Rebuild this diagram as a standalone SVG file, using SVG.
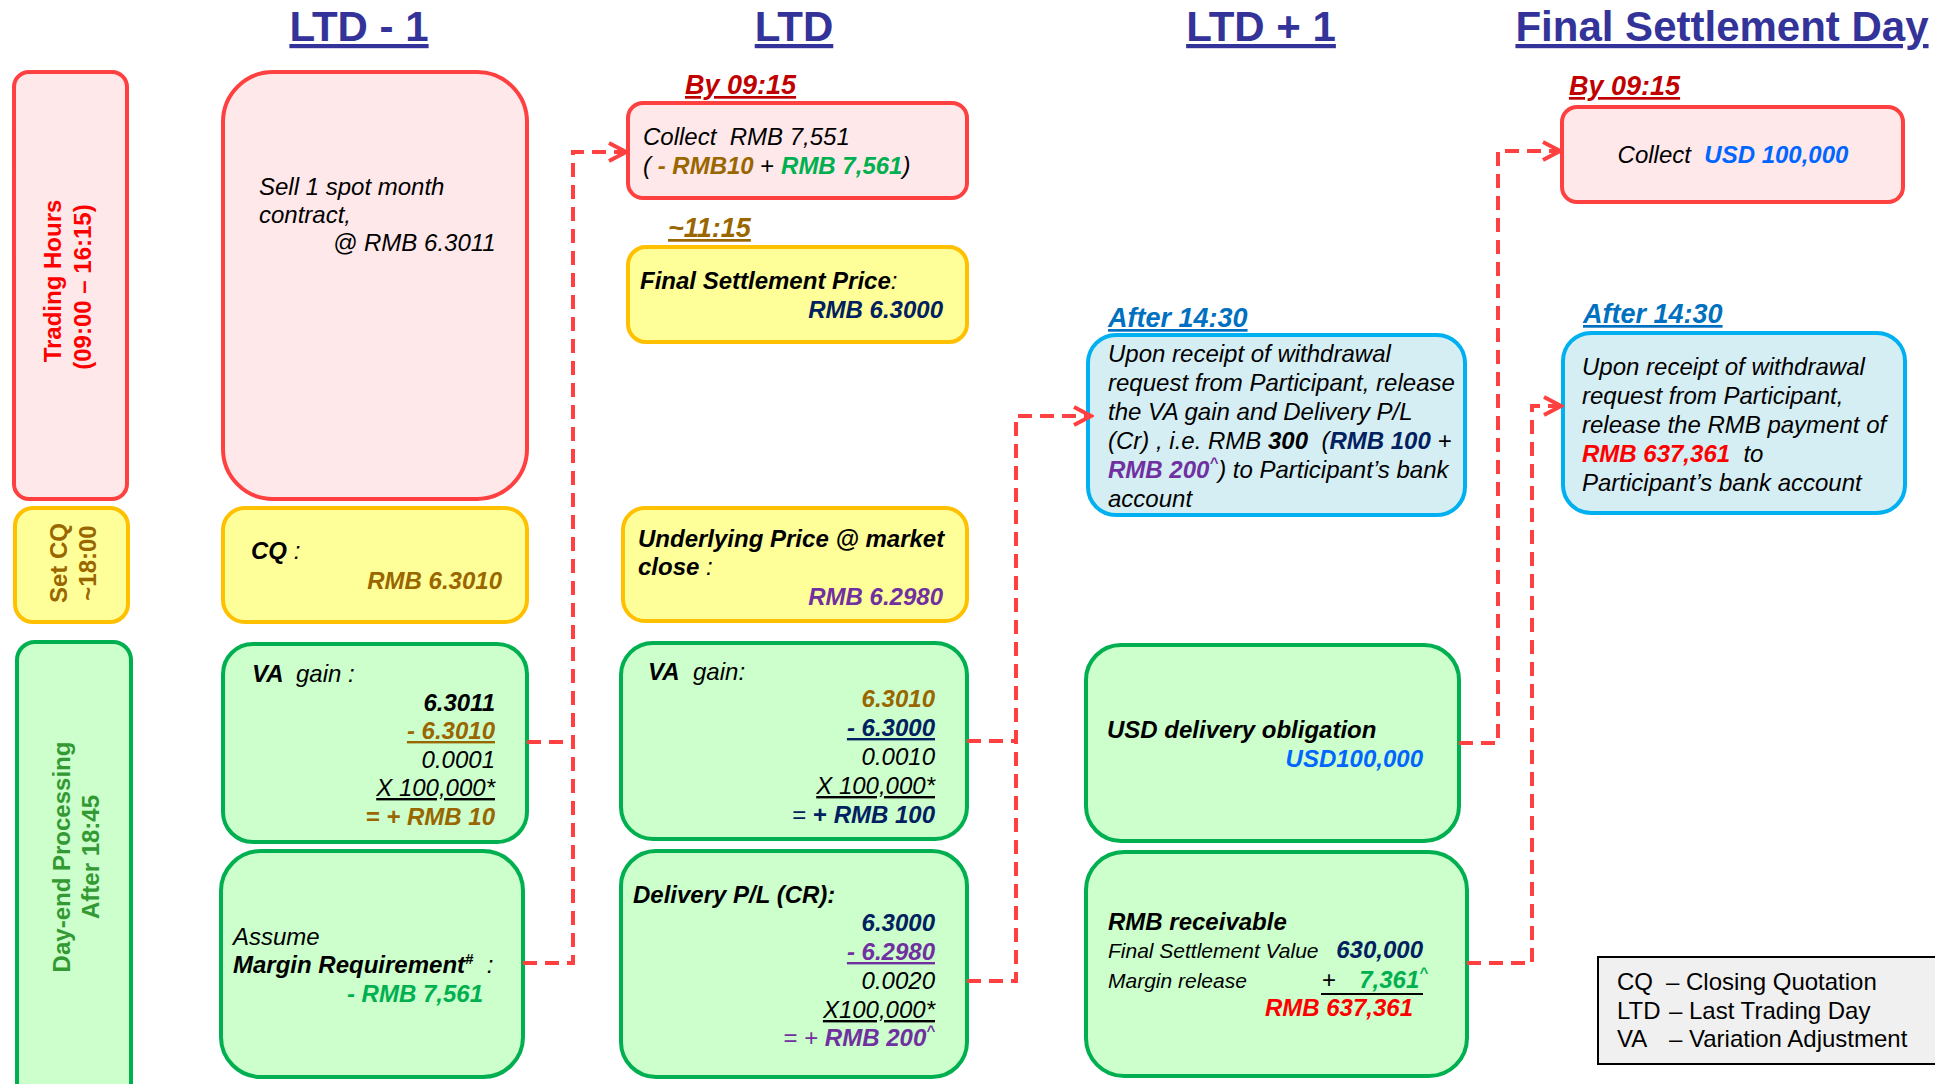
<svg xmlns="http://www.w3.org/2000/svg" width="1935" height="1084" viewBox="0 0 1935 1084">
<style>
text{font-family:"Liberation Sans",Arial,sans-serif;font-size:24px;fill:#000}
.title{font-size:42px;font-weight:bold;fill:#333399;text-decoration:underline;text-anchor:middle}
.i{font-style:italic}
.b{font-weight:bold}
.bi{font-weight:bold;font-style:italic}
.u{text-decoration:underline}
.end{text-anchor:end}
.mid{text-anchor:middle}
.time{font-size:27px;font-weight:bold;font-style:italic;text-decoration:underline}
.pink{fill:#FFE8EA;stroke:#FF4040;stroke-width:4}
.yel{fill:#FFFF99;stroke:#FFC000;stroke-width:4}
.grn{fill:#CCFFCC;stroke:#00B050;stroke-width:4}
.blu{fill:#D5EEF3;stroke:#00B0F0;stroke-width:4}
.brown{fill:#996600}
.navy{fill:#002060}
.purple{fill:#7030A0}
.green{fill:#00B050}
.usd{fill:#0066FF}
.red{fill:#FF0000}
.conn{fill:none;stroke:#FF4040;stroke-width:4;stroke-dasharray:14 8}
.sm{font-size:21px}
</style>
<defs>
<marker id="arr" viewBox="0 0 22 22" refX="19" refY="11" markerWidth="22" markerHeight="22" markerUnits="userSpaceOnUse" orient="auto">
<path d="M2,2 L19,11 L2,20" fill="none" stroke="#FF4040" stroke-width="4"/>
</marker>
</defs>
<rect width="1935" height="1084" fill="#fff"/>

<g id="titles">
<text class="title" x="359" y="41">LTD - 1</text>
<text class="title" x="794" y="41">LTD</text>
<text class="title" x="1261" y="41">LTD + 1</text>
<text class="title" x="1722" y="41">Final Settlement Day</text>
</g>

<g id="label-trading">
<rect class="pink" x="14" y="72" width="113" height="427" rx="15"/>
<text class="b mid" style="fill:#FF0000" transform="translate(61,281) rotate(-90)">Trading Hours</text>
<text class="b mid" style="fill:#FF0000" transform="translate(91,287) rotate(-90)">(09:00 – 16:15)</text>
</g>
<g id="label-setcq">
<rect class="yel" x="15" y="508" width="113" height="114" rx="18"/>
<text class="b mid brown" transform="translate(67,563) rotate(-90)">Set CQ</text>
<text class="b mid brown" transform="translate(96,563) rotate(-90)">~18:00</text>
</g>
<g id="label-dayend">
<rect class="grn" x="17" y="642" width="114" height="470" rx="18"/>
<text class="b mid" style="fill:#339933" transform="translate(70,857) rotate(-90)">Day-end Processing</text>
<text class="b mid" style="fill:#339933" transform="translate(99,857) rotate(-90)">After 18:45</text>
</g>

<g id="ltdm1-sell">
<rect class="pink" x="223" y="72" width="304" height="427" rx="50"/>
<text class="i" x="259" y="195">Sell 1 spot month</text>
<text class="i" x="259" y="223">contract,</text>
<text class="i" x="333" y="251">@ RMB 6.3011</text>
</g>
<g id="ltdm1-cq">
<rect class="yel" x="223" y="508" width="304" height="114" rx="22"/>
<text x="251" y="559"><tspan class="bi">CQ</tspan><tspan class="i"> :</tspan></text>
<text class="bi brown end" x="502" y="589">RMB 6.3010</text>
</g>
<g id="ltdm1-va">
<rect class="grn" x="223" y="644" width="304" height="198" rx="30"/>
<text class="bi" x="252" y="682">VA</text>
<text class="i" x="296" y="682">gain :</text>
<text class="bi end" x="495" y="711">6.3011</text>
<text class="bi brown end u" x="495" y="739">- 6.3010</text>
<text class="i end" x="495" y="768">0.0001</text>
<text class="i end u" x="495" y="796">X 100,000*</text>
<text class="bi brown end" x="495" y="825">= + RMB 10</text>
</g>
<g id="ltdm1-margin">
<rect class="grn" x="221" y="851" width="302" height="226" rx="40"/>
<text class="i" x="233" y="945">Assume</text>
<text x="233" y="973" xml:space="preserve"><tspan class="bi">Margin Requirement</tspan><tspan class="bi" font-size="15" dy="-9">#</tspan><tspan class="i" dy="9">  :</tspan></text>
<text class="bi green end" x="483" y="1002">- RMB 7,561</text>
</g>

<g id="ltd-collect">
<text class="time" style="fill:#C00000" x="685" y="94">By 09:15</text>
<rect class="pink" x="628" y="103" width="339" height="95" rx="15"/>
<text class="i" x="643" y="145" xml:space="preserve">Collect  RMB 7,551</text>
<text x="643" y="174" xml:space="preserve"><tspan class="i">( </tspan><tspan class="bi brown">- RMB10</tspan><tspan> + </tspan><tspan class="bi green">RMB 7,561</tspan><tspan class="i">)</tspan></text>
</g>
<g id="ltd-fsp">
<text class="time brown" x="668" y="237">~11:15</text>
<rect class="yel" x="628" y="247" width="339" height="95" rx="18"/>
<text x="640" y="289"><tspan class="bi">Final Settlement Price</tspan><tspan class="i">:</tspan></text>
<text class="bi navy end" x="943" y="318">RMB 6.3000</text>
</g>
<g id="ltd-underlying">
<rect class="yel" x="623" y="508" width="344" height="113" rx="22"/>
<text class="bi" x="638" y="547">Underlying Price @ market</text>
<text class="bi" x="638" y="575" xml:space="preserve">close <tspan class="i" font-weight="normal">:</tspan></text>
<text class="bi purple end" x="943" y="605">RMB 6.2980</text>
</g>
<g id="ltd-va">
<rect class="grn" x="621" y="643" width="346" height="196" rx="32"/>
<text class="bi" x="648" y="680">VA</text>
<text class="i" x="693" y="680">gain:</text>
<text class="bi brown end" x="935" y="707">6.3010</text>
<text class="bi navy end u" x="935" y="736">- 6.3000</text>
<text class="i end" x="935" y="765">0.0010</text>
<text class="i end u" x="935" y="794">X 100,000*</text>
<text class="end navy" x="935" y="823" xml:space="preserve">= <tspan class="b">+ </tspan><tspan class="bi">RMB 100</tspan></text>
</g>
<g id="ltd-delivery">
<rect class="grn" x="621" y="851" width="346" height="226" rx="35"/>
<text class="bi" x="633" y="903">Delivery P/L (CR):</text>
<text class="bi navy end" x="935" y="931">6.3000</text>
<text class="bi purple end u" x="935" y="960">- 6.2980</text>
<text class="i end" x="935" y="989">0.0020</text>
<text class="i end u" x="935" y="1018">X100,000*</text>
<text class="end purple" x="935" y="1046" xml:space="preserve">= + <tspan class="bi">RMB 200</tspan><tspan class="bi" font-size="15" dy="-10">^</tspan></text>
</g>

<g id="ltdp1-release">
<text class="time" style="fill:#0070C0" x="1108" y="327">After 14:30</text>
<rect class="blu" x="1088" y="335" width="377" height="180" rx="28"/>
<text class="i" x="1108" y="362">Upon receipt of withdrawal</text>
<text class="i" x="1108" y="391">request from Participant, release</text>
<text class="i" x="1108" y="420">the VA gain and Delivery P/L</text>
<text class="i" x="1108" y="449" xml:space="preserve">(Cr) , i.e. RMB <tspan class="b">300</tspan>  (<tspan class="b navy">RMB 100</tspan> +</text>
<text class="i" x="1108" y="478"><tspan class="b purple">RMB 200</tspan><tspan class="b purple" font-size="15" dy="-10">^</tspan><tspan dy="10">) to Participant’s bank</tspan></text>
<text class="i" x="1108" y="507">account</text>
</g>
<g id="ltdp1-usd">
<rect class="grn" x="1086" y="645" width="373" height="196" rx="35"/>
<text class="bi" x="1107" y="738">USD delivery obligation</text>
<text class="bi usd end" x="1423" y="767">USD100,000</text>
</g>
<g id="ltdp1-rmb">
<rect class="grn" x="1086" y="852" width="381" height="224" rx="38"/>
<text class="bi" x="1108" y="930">RMB receivable</text>
<text class="i sm" x="1108" y="958">Final Settlement Value</text>
<text class="bi navy end" x="1423" y="958">630,000</text>
<text class="i sm" x="1108" y="988">Margin release</text>
<text x="1322" y="988">+</text>
<text class="bi green end" x="1428" y="988">7,361<tspan font-size="15" dy="-10">^</tspan></text>
<line x1="1321" y1="994" x2="1423" y2="994" stroke="#000" stroke-width="2"/>
<text class="bi red end" x="1413" y="1016">RMB 637,361</text>
</g>

<g id="fsd-collect">
<text class="time" style="fill:#C00000" x="1569" y="95">By 09:15</text>
<rect class="pink" x="1562" y="107" width="341" height="95" rx="15"/>
<text class="mid" x="1733" y="163" xml:space="preserve"><tspan class="i">Collect  </tspan><tspan class="bi usd">USD 100,000</tspan></text>
</g>
<g id="fsd-release">
<text class="time" style="fill:#0070C0" x="1583" y="323">After 14:30</text>
<rect class="blu" x="1563" y="333" width="342" height="180" rx="28"/>
<text class="i" x="1582" y="375">Upon receipt of withdrawal</text>
<text class="i" x="1582" y="404">request from Participant,</text>
<text class="i" x="1582" y="433">release the RMB payment of</text>
<text class="i" x="1582" y="462" xml:space="preserve"><tspan class="b red">RMB 637,361</tspan>  to</text>
<text class="i" x="1582" y="491">Participant’s bank account</text>
</g>

<g id="legend">
<rect x="1598" y="957" width="345" height="107" fill="#F0F0F0" stroke="#000" stroke-width="2"/>
<text x="1617" y="990">CQ</text><text x="1666" y="990">– Closing Quotation</text>
<text x="1617" y="1019">LTD</text><text x="1669" y="1019">– Last Trading Day</text>
<text x="1617" y="1047">VA</text><text x="1669" y="1047">– Variation Adjustment</text>
</g>

<g id="connectors">
<path class="conn" d="M527,742 H573 M523,963 H573 V152 H626" marker-end="url(#arr)"/>
<path class="conn" d="M967,741 H1016 M967,981 H1016 V416 H1091" marker-end="url(#arr)"/>
<path class="conn" d="M1459,743 H1498 V151 H1560" marker-end="url(#arr)"/>
<path class="conn" d="M1467,963 H1532 V406 H1561" marker-end="url(#arr)"/>
</g>
</svg>
